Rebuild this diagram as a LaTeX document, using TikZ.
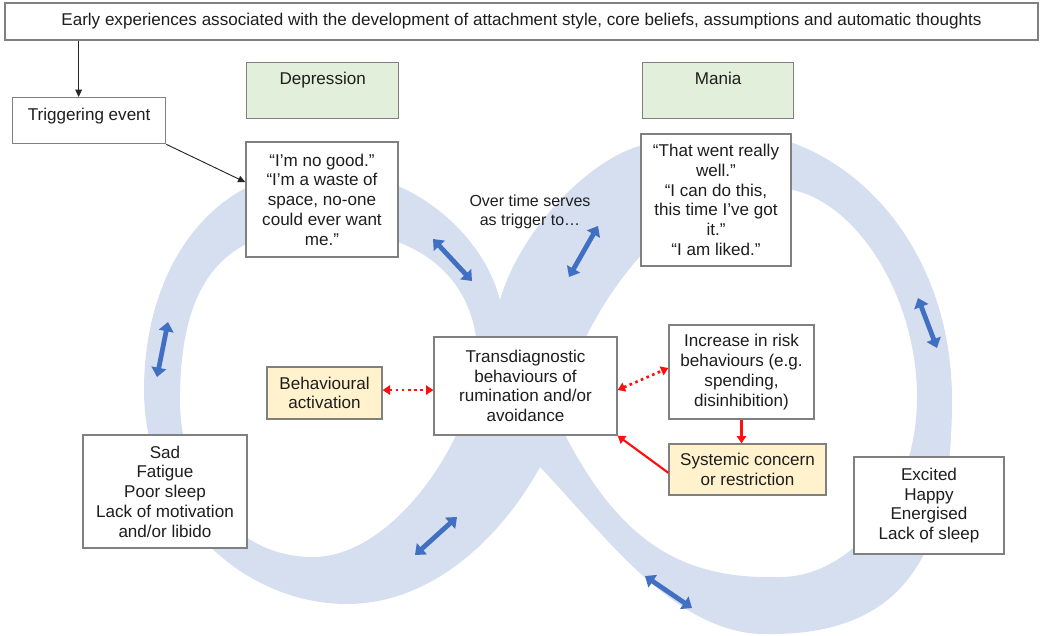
\documentclass[tikz,border=0pt]{standalone}
\usepackage{fontspec}
\setmainfont{Liberation Sans}
\usetikzlibrary{arrows.meta,calc}
\definecolor{bandblue}{HTML}{D6DFF0}
\definecolor{boxline}{HTML}{808080}
\definecolor{greenfill}{HTML}{E2EFDA}
\definecolor{yellowfill}{HTML}{FFF2CC}
\definecolor{bluearrow}{HTML}{4170C2}
\definecolor{txt}{HTML}{1E1E1E}
\definecolor{redarrow}{HTML}{FF1010}
\begin{document}
\begin{tikzpicture}[x=0.75pt,y=-0.75pt,
  every node/.style={font=\fontsize{12.8}{14.8}\selectfont, text=txt},
  box/.style={draw=boxline, line width=1pt, fill=white, align=center, inner sep=0pt},
  greenbox/.style={box, fill=greenfill},
  yellowbox/.style={box, fill=yellowfill},
  bluearr/.style={draw=bluearrow, line width=3.6pt,
    {Triangle[width=11pt,length=7pt]}-{Triangle[width=11pt,length=7pt]}},
  reddot/.style={draw=redarrow, line width=2pt, dash pattern=on 2pt off 2.6pt,
    {Triangle[width=7pt,length=5.5pt]}-{Triangle[width=7pt,length=5.5pt]}},
  redsolid/.style={draw=redarrow, line width=1.6pt, -{Triangle[width=7pt,length=5.5pt]}},
  blk/.style={draw=black!85, line width=0.7pt, -{Triangle[width=5pt,length=5.5pt]}}
]
\useasboundingbox (0,0) rectangle (1051,636);

% figure-eight band (outer contour with two holes)
\fill[bandblue, even odd rule]
  (500,300) .. controls (485,240) and (420,174) .. (330,170)
  .. controls (215,165) and (144,265) .. (144,390)
  .. controls (144,510) and (240,604) .. (347,604)
  .. controls (430,604) and (500,540) .. (540,467)
  .. controls (605,535) and (675,634) .. (765,634)
  .. controls (900,636) and (952,560) .. (952,400)
  .. controls (952,270) and (880,175) .. (793,143)
  .. controls (750,128) and (690,133) .. (643,145)
  .. controls (590,158) and (520,230) .. (500,300) -- cycle
  (180,400) .. controls (180,280) and (225,229) .. (320,229)
  .. controls (410,229) and (470,270) .. (477,345)
  .. controls (484,420) and (400,557) .. (313,557)
  .. controls (230,557) and (180,480) .. (180,400) -- cycle
  (793,190) .. controls (860,205) and (917,300) .. (917,397)
  .. controls (917,500) and (850,577) .. (780,577)
  .. controls (680,580) and (620,540) .. (565,435)
  .. controls (555,380) and (600,300) .. (643,253)
  .. controls (690,215) and (740,190) .. (793,190) -- cycle;

% blue double arrows along the band
\coordinate (b1a) at (433,239); \coordinate (b1b) at (472,281);
\coordinate (b2a) at (598,226); \coordinate (b2b) at (569,277);
\coordinate (b3a) at (918,298); \coordinate (b3b) at (937,348);
\coordinate (b4a) at (168,322); \coordinate (b4b) at (157,377);
\coordinate (b5a) at (457,517); \coordinate (b5b) at (415,555);
\coordinate (b6a) at (645,576); \coordinate (b6b) at (692,608);
\draw[bluearr] (b1a) -- (b1b);
\draw[bluearr] (b2a) -- (b2b);
\draw[bluearr] (b3a) -- (b3b);
\draw[bluearr] (b4a) -- (b4b);
\draw[bluearr] (b5a) -- (b5b);
\draw[bluearr] (b6a) -- (b6b);

% boxes
\node[box, minimum width=774.75pt, minimum height=27.75pt] (top) at (521.5,21.5)
  {Early experiences associated with the development of attachment style, core beliefs, assumptions and automatic thoughts};
\node[box, anchor=north west, minimum width=114.75pt, text height=16.9pt, text depth=17.6pt] (trig) at (12,97) {Triggering event};
\node[greenbox, anchor=north west, minimum width=114pt, text height=16.5pt, text depth=25.5pt] (dep) at (246,62) {Depression};
\node[greenbox, anchor=north west, minimum width=113.25pt, text height=16.5pt, text depth=25.5pt] (man) at (642,62) {Mania};
\node[box, minimum width=114pt, minimum height=86.25pt] (depq) at (322,199.5)
  {“I’m no good.”\\“I’m a waste of\\space, no-one\\could ever want\\me.”};
\node[box, minimum width=112.5pt, minimum height=99pt] (manq) at (716,200)
  {“That went really\\well.”\\“I can do this,\\this time I’ve got\\it.”\\“I am liked.”};
\node[font=\fontsize{12}{13.8}\selectfont, align=center, inner sep=0pt] (over) at (530,212)
  {Over time serves\\as trigger to…};
\node[yellowbox, minimum width=86.25pt, minimum height=39pt] (ba) at (324.5,393) {Behavioural\\activation};
\node[box, minimum width=137.25pt, minimum height=73.5pt] (trans) at (525.5,386)
  {Transdiagnostic\\behaviours of\\rumination and/or\\avoidance};
\node[box, minimum width=108.75pt, minimum height=70.5pt] (risk) at (741.5,372)
  {Increase in risk\\behaviours (e.g.\\spending,\\disinhibition)};
\node[yellowbox, minimum width=117.75pt, minimum height=38.25pt] (sys) at (747.5,469.5)
  {Systemic concern\\or restriction};
\node[box, minimum width=112.5pt, minimum height=72.75pt] (exc) at (929,505.5)
  {Excited\\Happy\\Energised\\Lack of sleep};
\node[box, minimum width=123pt, minimum height=84.75pt] (sad) at (165,491.5)
  {Sad\\Fatigue\\Poor sleep\\Lack of motivation\\and/or libido};

% connectors
\draw[blk] ([xshift=-7.9pt]trig.north |- top.south) -- ([xshift=-7.9pt]trig.north);
\draw[blk] (trig.south east) -- ([yshift=13pt]depq.west);
\draw[reddot] ([yshift=2.2pt]ba.east) -- ([yshift=2.2pt]ba.east -| trans.west);
\draw[reddot] ([yshift=-3pt]trans.east) -- ([yshift=3pt]risk.west);
\draw[redsolid] (risk.south) -- (risk.south |- sys.north);
\draw[redsolid] ([yshift=-2.5pt]sys.west) -- (trans.south east);
\end{tikzpicture}
\end{document}
